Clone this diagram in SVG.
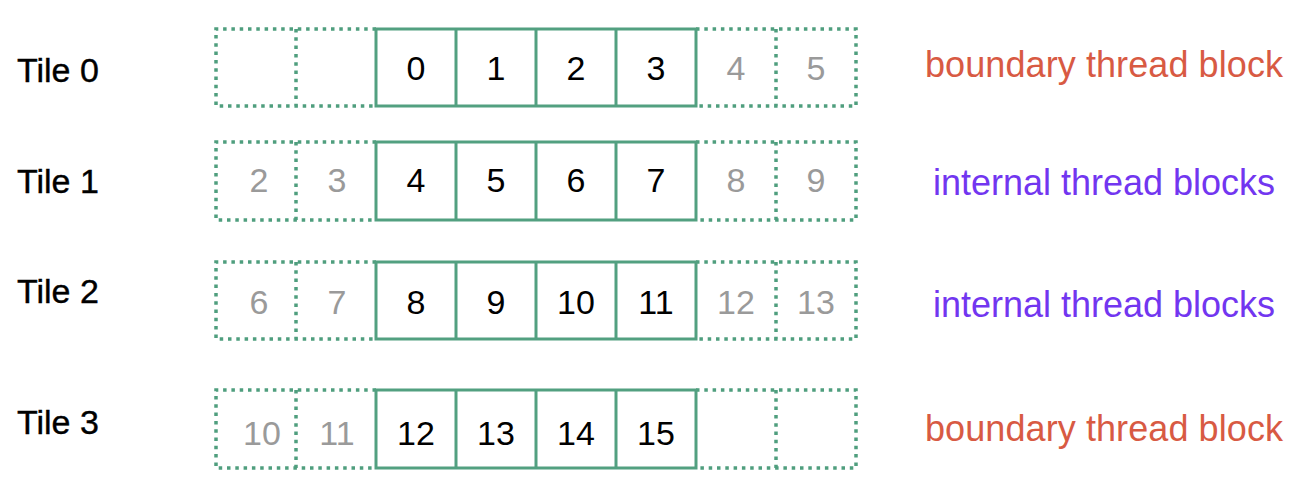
<svg xmlns="http://www.w3.org/2000/svg" width="1298" height="482" viewBox="0 0 1298 482">
<style>
.bg{fill:#ffffff}
.dot{fill:none;stroke:#4f9e7e;stroke-width:3.5;stroke-dasharray:3.5 4.8}
.sol{fill:none;stroke:#52a080;stroke-width:3}
.tile{font-family:"Liberation Sans",Arial,sans-serif;font-size:34px;fill:#000;stroke:#000;stroke-width:0.4}
.num{font-family:"Liberation Sans",Arial,sans-serif;font-size:34px;text-anchor:middle;fill:#000}
.halo{fill:#9a9a9a}
.lab{font-family:"Liberation Sans",Arial,sans-serif;font-size:36px}
.red{fill:#d85a43}
.pur{fill:#7236f0}
</style>
<rect class="bg" x="0" y="0" width="1298" height="482"/>

<g id="tile0">
<text class="tile" x="17" y="82">Tile 0</text>
<path class="dot" d="M376 29 H216 V106 H376 M296 29 V106 M696 29 H856 V106 H696 M776 29 V106"/>
<path class="sol" d="M376 29 H696 V106 H376 Z M456 29 V106 M536 29 V106 M616 29 V106"/>
<text class="num" x="416" y="80">0</text>
<text class="num" x="496" y="80">1</text>
<text class="num" x="576" y="80">2</text>
<text class="num" x="656" y="80">3</text>
<text class="num halo" x="736" y="80">4</text>
<text class="num halo" x="816" y="80">5</text>
<text class="lab red" x="925" y="77" textLength="358">boundary thread block</text>
</g>

<g id="tile1">
<text class="tile" x="17" y="193">Tile 1</text>
<path class="dot" d="M376 142 H216 V220 H376 M296 142 V220 M696 142 H856 V220 H696 M776 142 V220"/>
<path class="sol" d="M376 142 H696 V220 H376 Z M456 142 V220 M536 142 V220 M616 142 V220"/>
<text class="num halo" x="259" y="192">2</text>
<text class="num halo" x="337" y="192">3</text>
<text class="num" x="416" y="192">4</text>
<text class="num" x="496" y="192">5</text>
<text class="num" x="576" y="192">6</text>
<text class="num" x="656" y="192">7</text>
<text class="num halo" x="736" y="192">8</text>
<text class="num halo" x="816" y="192">9</text>
<text class="lab pur" x="933" y="195" textLength="342">internal thread blocks</text>
</g>

<g id="tile2">
<text class="tile" x="17" y="303">Tile 2</text>
<path class="dot" d="M376 262 H216 V339 H376 M296 262 V339 M696 262 H856 V339 H696 M776 262 V339"/>
<path class="sol" d="M376 262 H696 V339 H376 Z M456 262 V339 M536 262 V339 M616 262 V339"/>
<text class="num halo" x="259" y="314">6</text>
<text class="num halo" x="337" y="314">7</text>
<text class="num" x="416" y="314">8</text>
<text class="num" x="496" y="314">9</text>
<text class="num" x="576" y="314">10</text>
<text class="num" x="656" y="314">11</text>
<text class="num halo" x="736" y="314">12</text>
<text class="num halo" x="816" y="314">13</text>
<text class="lab pur" x="933" y="317" textLength="342">internal thread blocks</text>
</g>

<g id="tile3">
<text class="tile" x="17" y="434">Tile 3</text>
<path class="dot" d="M376 390 H216 V468 H376 M296 390 V468 M696 390 H856 V468 H696 M776 390 V468"/>
<path class="sol" d="M376 390 H696 V468 H376 Z M456 390 V468 M536 390 V468 M616 390 V468"/>
<text class="num halo" x="262" y="445">10</text>
<text class="num halo" x="337" y="445">11</text>
<text class="num" x="416" y="445">12</text>
<text class="num" x="496" y="445">13</text>
<text class="num" x="576" y="445">14</text>
<text class="num" x="656" y="445">15</text>
<text class="lab red" x="925" y="441" textLength="358">boundary thread block</text>
</g>
</svg>
